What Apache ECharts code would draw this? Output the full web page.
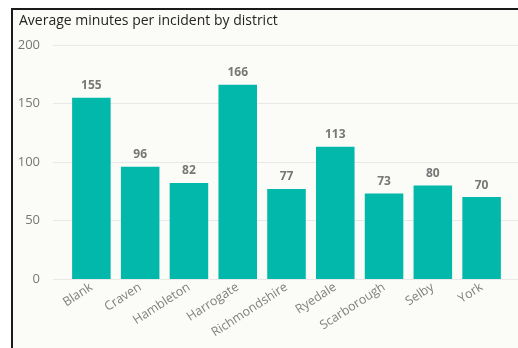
<!DOCTYPE html>
<html>
<head>
<meta charset="utf-8">
<script src="https://cdn.jsdelivr.net/npm/echarts@6/dist/echarts.min.js"></script>
<style>
  html, body { margin: 0; padding: 0; background: #ffffff; overflow: hidden; }
  #frame { position: absolute; left: 11px; top: 8px; width: 520px; height: 360px;
           background: #fbfbf8; border-left: 2px solid #1a1a1a; border-top: 2px solid #1a1a1a; box-sizing: border-box; }
  #chart { position: absolute; left: 0; top: 0; width: 518px; height: 348px; }
</style>
</head>
<body>
<div id="frame"></div>
<div id="chart"></div>
<script>
const districts = ['Blank', 'Craven', 'Hambleton', 'Harrogate', 'Richmondshire', 'Ryedale', 'Scarborough', 'Selby', 'York'];
const avgMinutes = [155, 96, 82, 166, 77, 113, 73, 80, 70];
const yTicks = [0, 50, 100, 150, 200];

const font = '"Open Sans", "Noto Sans", sans-serif';
const chart = echarts.init(document.getElementById('chart'), null, { renderer: 'canvas' });

chart.setOption({
  backgroundColor: 'transparent',
  animation: false,
  title: {
    text: 'Average minutes per incident by district',
    left: 14, top: 9,
    textStyle: { fontFamily: font, fontSize: 14, fontWeight: 'normal', color: '#252423' }
  },
  grid: [
    { left: 53, right: 0, top: 45, bottom: 69 },
    { left: 67, right: 12, top: 45, bottom: 69 }
  ],
  xAxis: [
    { gridIndex: 0, type: 'category', data: districts, show: false },
    {
      gridIndex: 1, type: 'category', data: districts,
      axisLine: { show: false }, axisTick: { show: false },
      axisLabel: { rotate: 33, margin: 7, color: '#808080', fontFamily: font, fontSize: 12.5, interval: 0 }
    }
  ],
  yAxis: [
    {
      gridIndex: 0, type: 'value', min: yTicks[0], max: yTicks[yTicks.length - 1], interval: 50,
      axisLine: { show: false }, axisTick: { show: false },
      axisLabel: { margin: 13, color: '#777777', fontFamily: font, fontSize: 13 },
      splitLine: { lineStyle: { color: '#e8e8e6', width: 1 } }
    },
    {
      gridIndex: 1, type: 'value', min: yTicks[0], max: yTicks[yTicks.length - 1], interval: 50,
      show: false
    }
  ],
  series: [{
    type: 'bar',
    xAxisIndex: 1, yAxisIndex: 1,
    data: avgMinutes,
    barCategoryGap: '21%',
    itemStyle: { color: '#01b8aa' },
    label: {
      show: true, position: 'top', distance: 6,
      color: '#777777', fontFamily: font, fontSize: 12, fontWeight: 'bold'
    }
  }]
});
</script>
</body>
</html>
